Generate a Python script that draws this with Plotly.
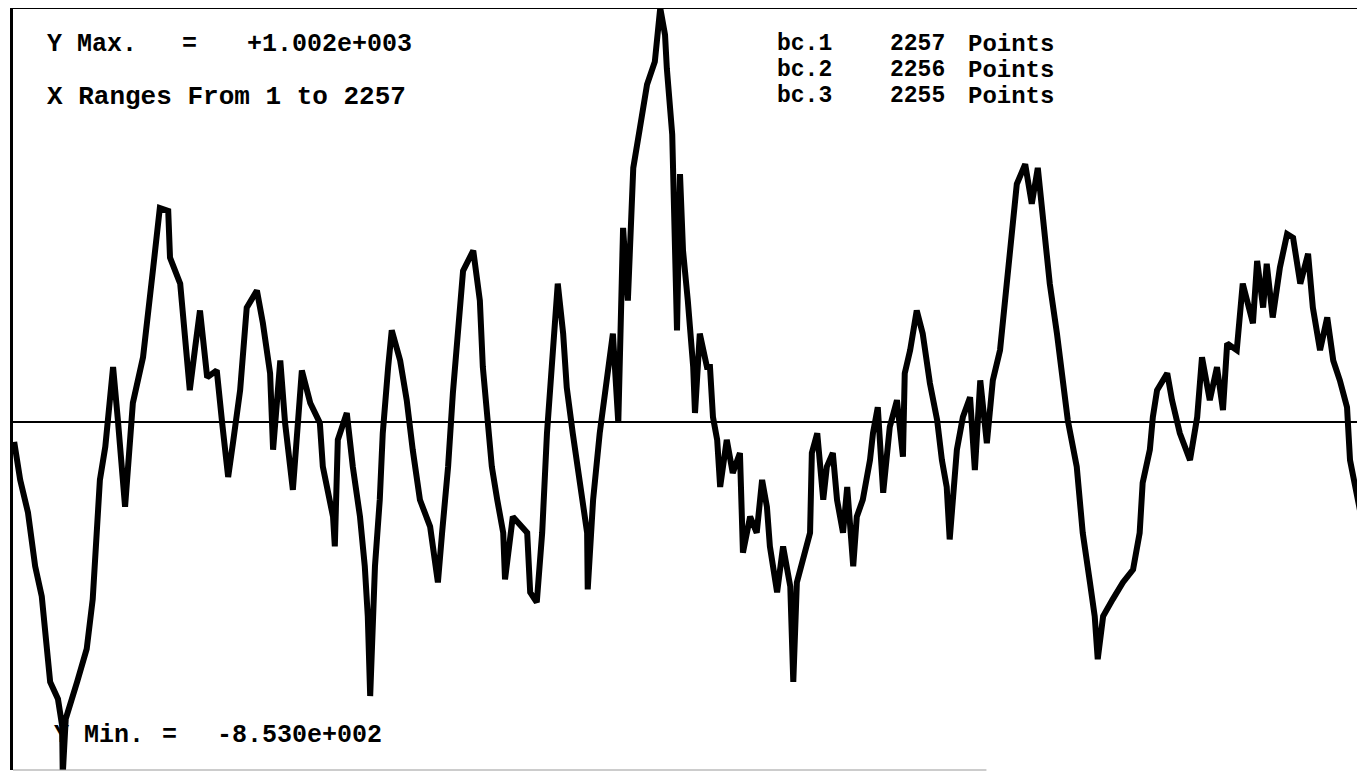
import plotly.graph_objects as go

# sample index / amplitude
sample = [3, 13, 26, 38, 49, 63, 76, 83, 84, 89, 108, 124, 134, 143, 146, 155, 160, 168, 176, 188,
          201, 218, 235, 246, 260, 263, 280, 288, 296, 305, 313, 325, 341, 350, 360, 368, 380, 391, 408, 418,
          430, 435, 447, 455, 468, 483, 497, 513, 518, 535, 538, 543, 558, 568, 580, 588, 593, 597, 605, 613,
          618, 627, 633, 647, 658, 668, 680, 697, 710, 717, 727, 735, 744, 752, 769, 780, 785, 792, 800, 809,
          819, 822, 835, 859, 864, 875, 884, 892, 900, 910, 919, 925, 935, 947, 959, 960, 969, 980, 992, 1002,
          1011, 1019, 1027, 1036, 1047, 1059, 1072, 1081, 1089, 1092, 1101, 1102, 1109, 1114, 1119, 1127, 1136, 1139, 1147, 1159,
          1164, 1169, 1176, 1181, 1192, 1202, 1214, 1219, 1231, 1242, 1251, 1259, 1264, 1276, 1286, 1298, 1303, 1309, 1319, 1331,
          1334, 1343, 1353, 1359, 1369, 1376, 1386, 1393, 1403, 1409, 1419, 1431, 1436, 1444, 1453, 1464, 1476, 1486, 1489, 1498,
          1509, 1519, 1531, 1543, 1551, 1559, 1564, 1576, 1586, 1598, 1606, 1615, 1626, 1636, 1648, 1660, 1668, 1676, 1690, 1701,
          1711, 1720, 1731, 1743, 1753, 1761, 1776, 1786, 1798, 1806, 1811, 1820, 1836, 1853, 1870, 1881, 1886, 1898, 1903, 1910,
          1927, 1935, 1948, 1965, 1977, 1985, 1998, 2010, 2020, 2027, 2043, 2053, 2070, 2077, 2087, 2093, 2103, 2115, 2127, 2137,
          2149, 2162, 2170, 2182, 2194, 2204, 2215, 2227, 2232, 2244, 2254, 2257]
amplitude = [-48, -140, -219, -349, -422, -629, -670, -735, -853, -718, -629, -549, -429, -219, -140, -60, 22, 133, 5, -205,
             46, 157, 374, 518, 511, 398, 335, 222, 77, 181, 270, 108, 125, -2, -133, -51, 77, 277, 318, 239,
             118, -67, 149, -2, -164, 125, 46, -2, -108, -229, -301, -43, 22, -108, -229, -349, -470, -663, -349, -188,
             -27, 133, 222, 149, 53, -67, -188, -253, -388, -268, -108, 70, 214, 366, 415, 294, 133, 12, -108, -188,
             -268, -381, -229, -268, -412, -436, -268, -27, 133, 335, 214, 84, -27, -147, -268, -405, -188, -27, 94, 214,
             -2, 470, 294, 615, 711, 817, 872, 1002, 937, 856, 696, 615, 222, 600, 415, 294, 133, 22, 214, 133,
             133, 12, -43, -157, -43, -123, -75, -316, -229, -268, -140, -205, -301, -412, -301, -398, -629, -388, -333, -268,
             -75, -27, -188, -108, -75, -188, -268, -157, -349, -229, -188, -92, -27, 36, -171, -12, 53, -84, 118, 174,
             270, 214, 94, 5, -92, -157, -284, -67, 12, 60, -116, 101, -51, 101, 174, 335, 455, 576, 624, 528,
             615, 494, 335, 214, 94, 5, -108, -268, -388, -470, -574, -470, -429, -388, -357, -268, -147, -67, 12, 77,
             118, 53, -27, -92, 12, 157, 53, 133, 29, 190, 174, 335, 239, 390, 277, 383, 253, 374, 455, 446,
             335, 407, 277, 174, 253, 149, 101, 36, -92, -188, -253, -260]

y_max_text = ['Y Max.', '=', '+1.002e+003']
y_min_text = ['Y Min.', '=', '-8.530e+002']
range_text = 'X Ranges From 1 to 2257'
series_names = ['bc.1', 'bc.2', 'bc.3']
series_counts = ['2257', '2256', '2255']
series_unit = 'Points'

fig = go.Figure()
fig.add_trace(go.Scatter(x=sample, y=amplitude, mode='lines',
                         line=dict(color='black', width=6), showlegend=False))

def label(text, px, py, size=25):
    # px, py are page positions, converted to paper coords (page has an 8px body margin)
    fig.add_annotation(text='<b>' + text + '</b>', xref='paper', yref='paper',
                       x=(px - 13) / 1352, y=(770 - py) / 762,
                       xanchor='left', yanchor='middle', showarrow=False,
                       font=dict(family='Liberation Mono', size=size, color='black'))

for t, px in zip(y_max_text, [45, 180, 245]):
    label(t, px, 45)
label(range_text, 45, 97, 26)
for t, px in zip(y_min_text, [52, 160, 215]):
    label(t, px, 735)
for i, (n, c) in enumerate(zip(series_names, series_counts)):
    label(n, 775, 44 + i * 26, 23)
    label(c, 888, 44 + i * 26, 23)
    label(series_unit, 966, 44 + i * 26, 24)

fig.add_shape(type='line', xref='paper', yref='paper', x0=0, x1=1, y0=1, y1=1,
              line=dict(color='black', width=2))
fig.add_shape(type='line', xref='paper', yref='paper', x0=0, x1=0.72, y0=0, y1=0,
              line=dict(color='#999999', width=1))

fig.update_layout(width=1357, height=765, margin=dict(l=5, r=0, t=0, b=3),
                  plot_bgcolor='white', paper_bgcolor='white')
fig.update_xaxes(range=[1, 2257], showgrid=False, showticklabels=False, ticks='',
                 zeroline=False, showline=False)
fig.update_yaxes(range=[-842, 1002], showgrid=False, showticklabels=False, ticks='',
                 zeroline=True, zerolinecolor='black', zerolinewidth=2,
                 showline=True, linecolor='black', linewidth=3)

fig.write_html('out.html')
